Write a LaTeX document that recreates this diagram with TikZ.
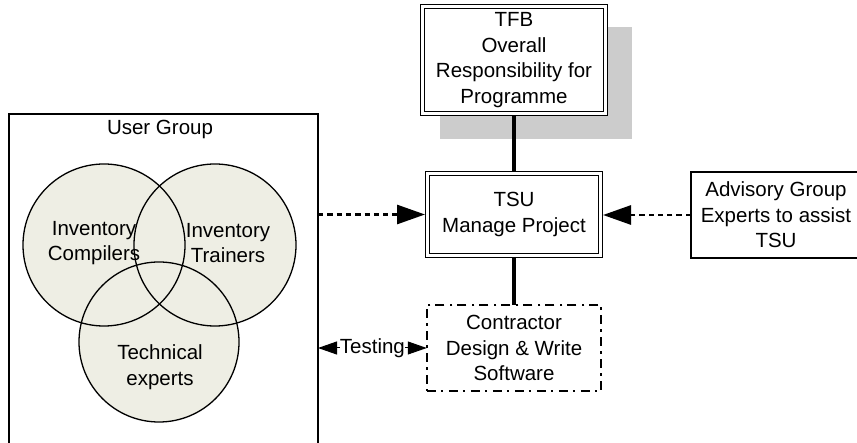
\documentclass[tikz,border=0pt]{standalone}
\usepackage{fontspec}
\setmainfont{Liberation Sans}
\usetikzlibrary{arrows.meta,calc}
\definecolor{venncol}{RGB}{238,238,228}
\definecolor{shadowcol}{RGB}{204,204,204}
\tikzset{
  txt/.style={font=\fontsize{20.5}{25.5}\selectfont, align=center, inner sep=0pt},
  dbox/.style={txt, draw, fill=white, double, line width=1.3pt, double distance=2.4pt, outer sep=2.5pt},
  pbox/.style={txt, draw, fill=white, line width=1.3pt, outer sep=0pt},
  cbox/.style={txt, draw, line width=1.7pt, dash pattern=on 9pt off 5pt on 2.5pt off 5.5pt, outer sep=0pt},
  thick link/.style={line width=4.5pt},
  dasharrow/.style={line width=2.8pt, dash pattern=on 5.3pt off 4pt, -{Triangle[length=28pt,width=19pt]}},
  testarrow/.style={line width=1pt, {Triangle[length=19pt,width=13pt]}-{Triangle[length=19pt,width=13pt]}},
  venn/.style={line width=1.3pt}
}
\begin{document}
\begin{tikzpicture}[x=1pt,y=-1pt]
\useasboundingbox (0,0) rectangle (857,443);
\clip (0,0) rectangle (857,443);
% shadow of TFB
\fill[shadowcol] (440,27) rectangle (632,139);
% boxes
\node[dbox, minimum width=183pt, minimum height=107pt] (tfb) at (514,60)
  {TFB\\Overall\\Responsibility for\\Programme};
\node[dbox, minimum width=173pt, minimum height=82pt] (tsu) at (514,214.5)
  {TSU\\Manage Project};
\node[cbox, minimum width=174.5pt, minimum height=86.5pt] (con) at (514,348)
  {Contractor\\Design \& Write\\Software};
\node[pbox, minimum width=170pt, minimum height=86pt] (adv) at (776,215)
  {Advisory Group\\Experts to assist\\TSU};
\node[pbox, fill=none, minimum width=309pt, minimum height=346pt] (ug) at (163.5,287) {};
\node[txt] (ugt) at (160,129) {User Group};
% Venn circles
\fill[venncol] (104,245) circle (81pt);
\fill[venncol] (215,245) circle (81pt);
\fill[venncol] (159,342) circle (80pt);
\draw[venn] (104,245) circle (81pt);
\draw[venn] (215,245) circle (81pt);
\draw[venn] (159,342) circle (80pt);
\node[txt] (ic) at (94,243) {Inventory\\Compilers};
\node[txt] (it) at (228,243) {Inventory\\Trainers};
\node[txt] (te) at (160,367) {Technical\\experts};
% connectors
\draw[thick link] (tfb.south) -- (tsu.north);
\draw[thick link] (tsu.south) -- (con.north);
\draw[dasharrow] (ug.east |- tsu.west) -- (tsu.west);
\draw[dasharrow] (adv.west) -- (adv.west -| tsu.east);
\draw[testarrow] (ug.east |- con.west) -- (con.west)
  node[txt, midway, fill=white] (tst) {Testing};
\end{tikzpicture}
\end{document}
